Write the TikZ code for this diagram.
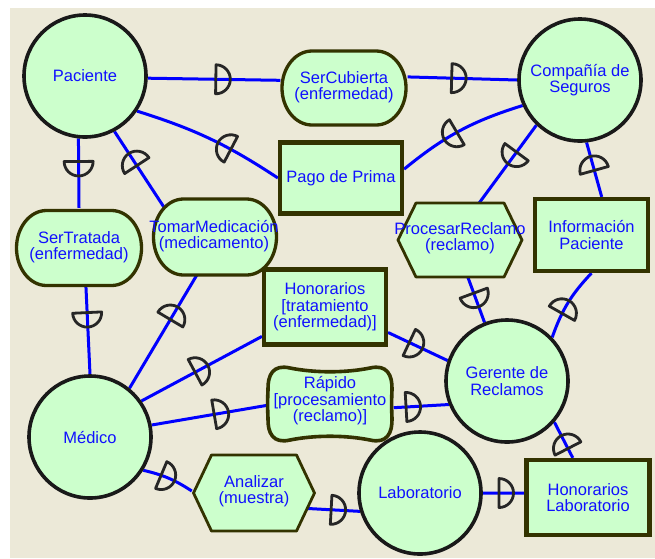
\documentclass[tikz,border=0pt]{standalone}
\usepackage{fontspec}
\setmainfont{Liberation Sans}
\usetikzlibrary{calc,decorations.markings}
\pgfdeclarelayer{paper}
\pgfdeclarelayer{links}
\pgfsetlayers{paper,links,main}
\definecolor{paperbg}{HTML}{ECE9D8}
\definecolor{nodefill}{HTML}{CCFFCC}
\definecolor{edgeolive}{HTML}{333300}
\definecolor{linkblue}{HTML}{0000FF}
\definecolor{labelblue}{HTML}{1010FF}
\begin{document}
\begin{tikzpicture}[x=1pt,y=-1pt,
  lbl/.style={font=\fontsize{16.5pt}{16.5pt}\selectfont, text=labelblue, align=center, inner sep=0pt},
  actor/.style={lbl, circle, draw=black!90, line width=3.6pt, fill=nodefill, minimum size=122pt},
  resource/.style 2 args={lbl, rectangle, draw=edgeolive, line width=4.2pt, fill=nodefill,
    minimum width=#1, minimum height=#2},
  slot/.style 2 args={lbl, rectangle, minimum width=#1, minimum height=#2},
  outline/.style={draw=edgeolive, line width=3.3pt, fill=nodefill, line join=round},
  link/.style={draw=linkblue, line width=3pt},
  dep/.style={postaction={decorate, decoration={markings, mark=at position #1 with
    {\draw[draw=black!85, line width=2.8pt, line join=round, line cap=round]
      (-7.5pt,14.5pt) arc[start angle=90, end angle=-90, radius=14.5pt] -- cycle;}}}},
  pics/goal/.style 2 args={code={
    \path[outline] (-#1/2+30,-#2/2) -- (#1/2-30,-#2/2)
      arc[start angle=-90, end angle=90, x radius=30, y radius=#2/2]
      -- (-#1/2+30,#2/2)
      arc[start angle=90, end angle=270, x radius=30, y radius=#2/2] -- cycle;}},
  pics/task/.style 2 args={code={
    \path[outline, line width=2.8pt] (-#1/2,0) -- (-#1/2+18,-#2/2) -- (#1/2-18,-#2/2)
      -- (#1/2,0) -- (#1/2-18,#2/2) -- (-#1/2+18,#2/2) -- cycle;}},
  pics/soft/.style={code={
    \path[outline, line width=3.6pt] (-40,-36) .. controls (-15,-31) and (15,-31) .. (40,-36)
      .. controls (57,-40) and (62.5,-29) .. (62,-14)
      .. controls (61.5,-5) and (61.5,5) .. (62,14)
      .. controls (62.5,29) and (57,40) .. (40,36)
      .. controls (15,31) and (-15,31) .. (-40,36)
      .. controls (-57,40) and (-62.5,29) .. (-62,14)
      .. controls (-62.5,5) and (-62.5,-5) .. (-62,-14)
      .. controls (-62.5,-29) and (-57,-40) .. (-40,-36) -- cycle;}}
]
\useasboundingbox (0,0) rectangle (655,558);
\begin{pgfonlayer}{paper}
  \fill[white] (0,0) rectangle (655,558);
  \fill[paperbg] (10,8) rectangle (655,558);
\end{pgfonlayer}

% actors
\node[actor] (pac)  at (85,76)   {Paciente};
\node[actor] (comp) at (580,80)  {Compañía de\\Seguros};
\node[actor] (ger)  at (507,381) {Gerente de\\Reclamos};
\node[actor] (med)  at (90,437)  {Médico};
\node[actor] (lab)  at (420,493) {Laboratorio};

% resources
\node[resource={122}{71}] (pago)   at (341,178)   {Pago de Prima};
\node[resource={113}{72}] (info)   at (591.5,235) {Información\\Paciente};
\node[resource={122}{75}] (hon)    at (325,307)   {Honorarios\\{[}tratamiento\\(enfermedad){]}};
\node[resource={123}{75}] (honlab) at (588,497.5) {Honorarios\\Laboratorio};

% goals
\pic at (344,88) {goal={124}{74}};
\node[slot={127}{77}] (serc) at (344,87) {SerCubierta\\(enfermedad)};
\pic at (79,248) {goal={125}{75}};
\node[slot={128}{78}] (sert) at (79,247) {SerTratada\\(enfermedad)};
\pic at (215,237) {goal={123}{76}};
\node[slot={126}{79}] (tomar) at (214,236) {TomarMedicación\\(medicamento)};

% tasks
\pic at (460,240) {task={124}{74}};
\node[slot={127}{77}] (proc) at (460,238) {ProcesarReclamo\\(reclamo)};
\pic at (254,493) {task={121}{76}};
\node[slot={124}{79}] (anal) at (254,491) {Analizar\\(muestra)};

% softgoal
\pic at (330,404) {soft};
\node[slot={127}{78}] (rap) at (330,401) {Rápido\\{[}procesamiento\\(reclamo){]}};

% dependency links, each drawn from depender towards dependee
\begin{pgfonlayer}{links}
  \draw[link, dep=0.57] (pac.-2) -- (serc.174);
  \draw[link, dep=0.47] (serc.9) -- (comp.180);
  \draw[link, dep=0.58] (comp.204) to[bend right=11] (pago.8);
  \draw[link, dep=0.40] (pago.west) to[bend right=8] (pac.-34);
  \draw[link, dep=0.44] (pac.-96) -- (sert.north);
  \draw[link, dep=0.69] ($(tomar.center)+(-41,-15)$) -- (pac.-62);
  \draw[link, dep=0.385] (sert.-80) -- (med.north);
  \draw[link, dep=0.60] (med.51) -- ($(tomar.center)+(-10,27)$);
  \draw[link, dep=0.50] (med.35) -- (hon.205);
  \draw[link, dep=0.47] (hon.-22) -- (ger.161);
  \draw[link, dep=0.61] (med.11) -- (rap.184);
  \draw[link, dep=0.36] (rap.-6) -- (ger.202);
  \draw[link, dep=0.39] (comp.226) -- ($(proc.center)+(14,-28)$);
  \draw[link, dep=0.62] ($(proc.center)+(3,26)$) -- (ger.111);
  \draw[link, dep=0.62] (info.75) -- (comp.-84);
  \draw[link, dep=0.44] (ger.44) to[bend left=12] (info.south);
  \draw[link, dep=0.49] (med.-32) to[bend left=10] (anal.west);
  \draw[link, dep=0.65] ($(anal.center)+(45,17)$) -- (lab.197);
  \draw[link, dep=0.57] (lab.east) -- (honlab.176);
  \draw[link, dep=0.45] (honlab.111) -- (ger.-41);
\end{pgfonlayer}
\end{tikzpicture}
\end{document}
